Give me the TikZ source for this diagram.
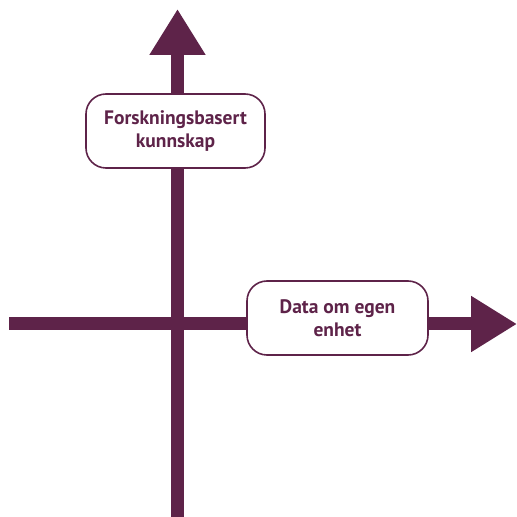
\documentclass[tikz,border=0pt]{standalone}
\usepackage{fontspec}
\setmainfont{PT Sans}
\usetikzlibrary{arrows.meta}
\definecolor{plum}{RGB}{94,35,73}
\tikzset{
  axis/.style={plum, line width=13pt, -{Triangle[width=53pt,length=46pt]}},
  tekstboks/.style={draw=plum, line width=1.6pt, fill=white, rounded corners=20pt,
    text=plum, font=\bfseries\fontsize{19.5}{23}\selectfont, align=center,
    minimum height=74pt, inner sep=0pt}
}
\begin{document}
\begin{tikzpicture}[x=1pt,y=1pt]
            \useasboundingbox (0,0) rectangle (517,517);
            \coordinate (bunn) at (177.5,0);
            \coordinate (topp) at (177.5,508);
            \coordinate (venstre) at (9,193);
            \coordinate (hoyre) at (517,193);
            \draw[axis] (venstre) -- (hoyre);
            \draw[axis] (bunn) -- (topp);
            \node[tekstboks, minimum width=179pt] (forskning) at (175.5,386) {Forskningsbasert\\kunnskap};
            \node[tekstboks, minimum width=181pt] (data) at (337.5,199) {Data om egen\\enhet};
        \end{tikzpicture}
\end{document}
